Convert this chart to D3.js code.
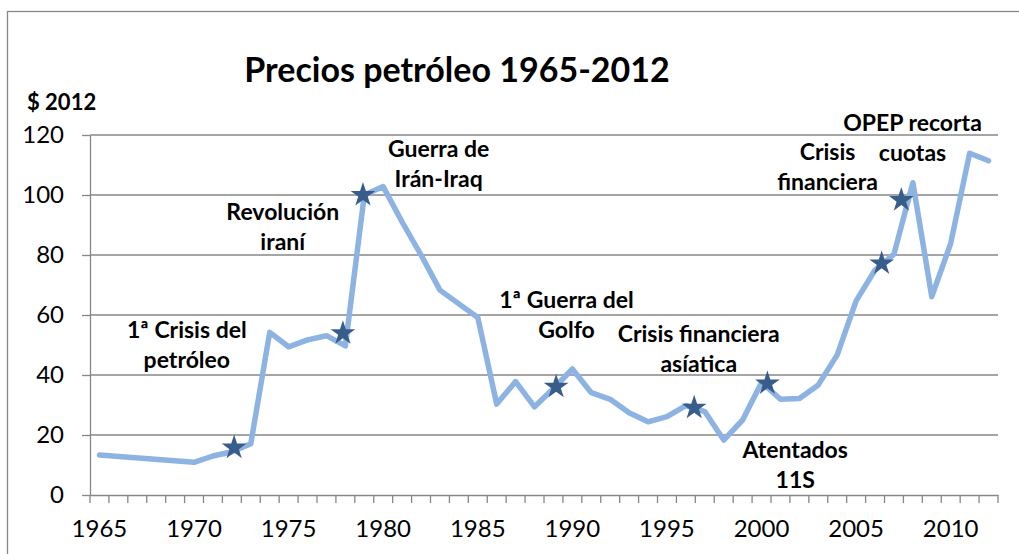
<!DOCTYPE html>
<html>
<head>
<meta charset="utf-8">
<script src="https://cdn.jsdelivr.net/npm/d3@7"></script>
<style>
  body { margin: 0; background: #fff; }
  svg { display: block; font-family: Lato, "Open Sans", sans-serif; }
</style>
</head>
<body>
<svg id="chart" width="1019" height="554"></svg>
<script>
// precio del barril en $ de 2012 (1966-1969 sin dato en la serie original)
var years = d3.range(1965, 2013);
var prices = [13.3, null, null, null, null, 10.9, 13.0, 14.4, 17.1, 54.2,
              49.4, 51.7, 53.1, 49.7, 100, 102.8, 91, 80, 68.3, 63.7,
              59.2, 30.3, 37.8, 29.4, 35.5, 42, 34.1, 31.9, 27.4, 24.4,
              26.1, 29.8, 27.8, 18.3, 25, 37.5, 31.9, 32.2, 36.7, 46.7,
              64.7, 75, 80.3, 104.1, 66.1, 83.9, 113.9, 111.4];
var yTicks = [0, 20, 40, 60, 80, 100, 120];
var xLabels = [1965, 1970, 1975, 1980, 1985, 1990, 1995, 2000, 2005, 2010];

// estrellas de los acontecimientos
var eventYears  = [1972.12, 1977.87, 1978.93, 1989.14, 1996.44, 2000.31, 2006.35, 2007.39];
var eventValues = [15.8, 53.9, 100, 36.1, 29.1, 37.2, 77.2, 98.3];

var notes = [
  {lines: ["1ª Crisis del", "petróleo"], year: 1969.62, value: 52.3},
  {lines: ["Revolución", "iraní"], year: 1974.69, value: 91.7},
  {lines: ["Guerra de", "Irán-Iraq"], year: 1982.93, value: 112.7},
  {lines: ["1ª Guerra del", "Golfo"], year: 1989.69, value: 62.3},
  {lines: ["Crisis financiera", "asíatica"], year: 1996.68, value: 51},
  {lines: ["Atentados", "11S"], year: 2001.78, value: 12.3},
  {lines: ["Crisis", "financiera"], year: 2003.49, value: 111.7},
  {lines: ["OPEP recorta", "cuotas"], year: 2007.98, value: 121.3}
];

var svg = d3.select("#chart");
var plotL = 90, plotR = 998, plotT = 135, plotB = 495;
var grey = "#878787";

svg.append("rect")
    .attr("x", 7.5).attr("y", 11.5)
    .attr("width", 1040).attr("height", 580)
    .attr("fill", "none")
    .attr("stroke", grey).attr("stroke-width", 1.3);

var x = d3.scaleBand().domain(years).range([plotL, plotR]).padding(0);
var bw = x.bandwidth();
var xl = d3.scaleLinear()
    .domain([1965, 2012])
    .range([x(1965) + bw / 2, x(2012) + bw / 2]);
var y = d3.scaleLinear().domain([0, 120]).range([plotB, plotT]);

// rejilla
svg.append("g").selectAll("line")
    .data(yTicks.slice(1))
  .enter().append("line")
    .attr("x1", plotL).attr("x2", plotR)
    .attr("y1", function(d) { return y(d); })
    .attr("y2", function(d) { return y(d); })
    .attr("stroke", grey).attr("stroke-width", 1.3);

// eje y
var gy = svg.append("g")
    .attr("transform", "translate(" + plotL + ",0)")
    .call(d3.axisLeft(y).tickValues(yTicks).tickSize(8).tickPadding(18).tickSizeOuter(0));
gy.select(".domain").attr("stroke", grey).attr("stroke-width", 1.3);
gy.selectAll(".tick line").attr("stroke", grey).attr("stroke-width", 1.3);
gy.selectAll("text")
    .attr("font-family", "Lato, sans-serif")
    .attr("font-size", 24).attr("fill", "#000");

// eje x
var gx = svg.append("g")
    .attr("transform", "translate(0," + plotB + ")")
    .call(d3.axisBottom(x).tickValues(xLabels).tickSize(0).tickSizeOuter(0));
gx.select(".domain").attr("stroke", grey).attr("stroke-width", 1.3);
gx.selectAll("text")
    .attr("y", 42).attr("dy", 0)
    .attr("font-family", "Lato, sans-serif")
    .attr("font-size", 24).attr("fill", "#000");
gx.selectAll(".xtick")
    .data(years.concat([2013]))
  .enter().append("line")
    .attr("class", "xtick")
    .attr("x1", function(d) { return d < 2013 ? x(d) : x(2012) + bw; })
    .attr("x2", function(d) { return d < 2013 ? x(d) : x(2012) + bw; })
    .attr("y1", 0).attr("y2", 8)
    .attr("stroke", grey).attr("stroke-width", 1.3);

// serie
var series = years.map(function(yr, i) { return {year: yr, value: prices[i]}; })
    .filter(function(d) { return d.value != null; });
var line = d3.line()
    .x(function(d) { return x(d.year) + bw / 2; })
    .y(function(d) { return y(d.value); });
svg.append("path")
    .datum(series)
    .attr("d", line)
    .attr("fill", "none")
    .attr("stroke", "#8db3e2")
    .attr("stroke-width", 5.5)
    .attr("stroke-linejoin", "round")
    .attr("stroke-linecap", "round");

svg.append("g").selectAll("path")
    .data(eventYears)
  .enter().append("path")
    .attr("d", d3.symbol(d3.symbolStar, 190))
    .attr("transform", function(d, i) {
      return "translate(" + xl(d) + "," + y(eventValues[i]) + ")";
    })
    .attr("fill", "#385d8a");

// titulos
svg.append("text")
    .attr("x", 457).attr("y", 82)
    .attr("text-anchor", "middle")
    .attr("font-weight", "bold").attr("font-size", 34)
    .text("Precios petróleo 1965-2012");
svg.append("text")
    .attr("x", 27).attr("y", 110)
    .attr("font-weight", "bold").attr("font-size", 22)
    .text("$ 2012");

// anotaciones
var ann = svg.append("g").selectAll("text")
    .data(notes)
  .enter().append("text")
    .attr("text-anchor", "middle")
    .attr("font-weight", "bold").attr("font-size", 23)
    .attr("transform", function(d) {
      return "translate(" + xl(d.year) + "," + y(d.value) + ")";
    });
ann.selectAll("tspan")
    .data(function(d) { return d.lines; })
  .enter().append("tspan")
    .attr("x", 0)
    .attr("y", function(d, i) { return i * 30; })
    .text(function(d) { return d; });
</script>
</body>
</html>
